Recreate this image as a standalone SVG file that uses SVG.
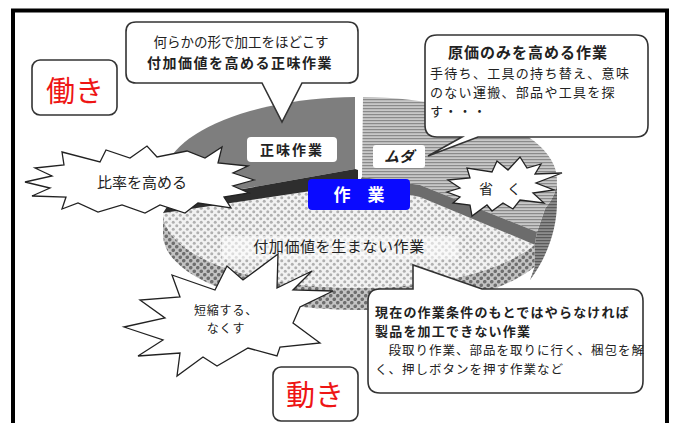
<svg xmlns="http://www.w3.org/2000/svg" width="674" height="423" viewBox="0 0 674 423">
<defs>
<pattern id="chkLight" width="7" height="7" patternUnits="userSpaceOnUse">
<rect width="7" height="7" fill="#f2f2f2"/>
<circle cx="1.75" cy="1.75" r="1.5" fill="#b0b0b0"/>
<circle cx="5.25" cy="5.25" r="1.5" fill="#b0b0b0"/>
</pattern>
<pattern id="chkDark" width="7" height="7" patternUnits="userSpaceOnUse">
<rect width="7" height="7" fill="#c4c4c4"/>
<circle cx="1.75" cy="1.75" r="1.8" fill="#6e6e6e"/>
<circle cx="5.25" cy="5.25" r="1.8" fill="#6e6e6e"/>
</pattern>
<pattern id="lines" width="4" height="3" patternUnits="userSpaceOnUse">
<rect width="4" height="3" fill="#c8c8c8"/>
<rect width="4" height="1.2" fill="#8a8a8a"/>
</pattern>
<pattern id="linesDark" width="4" height="3" patternUnits="userSpaceOnUse">
<rect width="4" height="3" fill="#8c8c8c"/>
<rect width="4" height="1.2" fill="#5a5a5a"/>
</pattern>
</defs>
<style>
text{font-family:"Noto Sans CJK JP","Noto Sans CJK SC",sans-serif;fill:#222}
.box{fill:#fff;stroke:#333;stroke-width:1.6}
.burst{fill:#fff;stroke:#222;stroke-width:1.3;stroke-linejoin:miter}
.big{font-size:29px;fill:#ee1515;text-anchor:middle}
.b{font-weight:bold}
.c{text-anchor:middle}
.lbl{fill:#fff}
</style>
<rect width="674" height="423" fill="#fff"/>
<g id="frame"><rect x="13" y="10.5" width="654" height="440" fill="none" stroke="#000" stroke-width="4"/></g>

<g id="pie">
<path d="M163,213 A195,75 0 0 0 534.7,244.7 L534.7,266.7 A195,75 0 0 1 163,235 Z" fill="url(#chkDark)"/>
<path d="M163,213 A195,75 0 0 0 534.7,244.7 L420,197 L358,184 Z" fill="url(#chkLight)"/>
<path d="M355,97 A197,83 0 0 0 170,201.9 L355,169 Z" fill="#7e7e7e"/>
<path d="M170,202 L355,169 L358,170 L358,184 L163,213 Z" fill="#2e2e2e"/>
<path d="M557,180 A197,83 0 0 1 545.1,208.4 L537,232 L534.7,244.7 L534.7,266.7 L530,280 C548,256 557,228 557,202 Z" fill="url(#linesDark)"/>
<path d="M363,97 A197,83 0 0 1 545.1,208.4 L537,232 L420,185 L362,177 Z" fill="url(#lines)"/>
<path d="M362,177 L420,185 L537,232 L534.7,244.7 L420,197 L358,184 Z" fill="#6c6c6c"/>
</g>

<g id="label-shoumi"><rect x="247" y="137" width="90" height="25" rx="4" fill="#fff"/><text x="292" y="155" class="c b" font-size="14" letter-spacing="2">正味作業</text></g>
<g id="label-muda"><rect x="373" y="145" width="52" height="23" rx="3" fill="#fff"/><text x="399" y="162" class="c b" font-size="15" font-style="italic">ムダ</text></g>
<g id="label-sagyou"><rect x="308" y="179" width="102" height="31" rx="4" fill="#0a0aff"/><text x="359" y="201" class="c b lbl" font-size="17">作　業</text></g>
<g id="label-fukakachi"><rect x="222" y="236" width="236" height="23" fill="#fff" opacity="0.55"/><text x="339" y="252" class="c" font-size="15" letter-spacing="0.6">付加価値を生まない作業</text></g>

<g id="hataraki"><rect x="32" y="60" width="85" height="55" rx="8" class="box"/><text x="75" y="102" class="big">働き</text></g>
<g id="ugoki"><rect x="273" y="367" width="85" height="54" rx="8" class="box"/><text x="315" y="406" class="big">動き</text></g>

<g id="callout-value">
<path class="box" d="M136,22 H348 Q358,22 358,32 V73 Q358,83 348,83 H302 L282,122 L262,83 H136 Q126,83 126,73 V32 Q126,22 136,22 Z"/>
<text x="241" y="47" class="c" font-size="13.5">何らかの形で加工をほどこす</text>
<text x="240" y="68" class="c b" font-size="14" letter-spacing="1.5">付加価値を高める正味作業</text>
</g>

<g id="callout-cost">
<path class="box" d="M437,35 H636 Q648,35 648,47 V125 Q648,137 636,137 H478 L428,156 L462,137 H437 Q425,137 425,125 V47 Q425,35 437,35 Z"/>
<text x="528" y="58" class="c b" font-size="15" letter-spacing="1">原価のみを高める作業</text>
<text x="430" y="78" font-size="13" letter-spacing="1.3">手待ち、工具の持ち替え、意味</text>
<text x="430" y="97" font-size="13" letter-spacing="1.3">のない運搬、部品や工具を探</text>
<text x="430" y="116" font-size="13" letter-spacing="1.3">す・・・</text>
</g>

<g id="callout-required">
<path class="box" d="M380,289 H413 V265 L482,289 H631 Q643,289 643,301 V381 Q643,393 631,393 H380 Q368,393 368,381 V301 Q368,289 380,289 Z"/>
<text x="375" y="317" class="b" font-size="13" letter-spacing="1.2">現在の作業条件のもとではやらなければ</text>
<text x="375" y="336" class="b" font-size="13" letter-spacing="1.2">製品を加工できない作業</text>
<text x="375" y="355" font-size="12.5" letter-spacing="1">　段取り作業、部品を取りに行く、梱包を解</text>
<text x="375" y="374" font-size="12.5" letter-spacing="1">く、押しボタンを押す作業など</text>
</g>

<g id="burst-ratio">
<polygon class="burst" points="62,152 100,162 106,150 130,158 147,146 157,157 187,151 205,158 222,147 218,163 248,166 233,173 254,180 233,186 249,193 224,197 231,208 198,203 185,213 160,205 145,213 122,205 98,212 78,203 62,209 66,197 32,196 50,188 25,182 52,176 35,168 64,165"/>
<text x="142" y="188" class="c" font-size="15">比率を高める</text>
</g>

<g id="burst-omit">
<polygon class="burst" points="448,180 470,178 467,168 492,172 497,161 508,170 520,157 527,168 541,164 535,174 562,173 536,183 554,190 533,193 544,203 520,200 513,209 503,203 492,211 487,205 472,216 470,205 453,203 460,197 447,192 460,188"/>
<text x="500" y="194" class="c" font-size="14">省　く</text>
</g>

<g id="burst-shorten">
<polygon class="burst" points="172,275 215,290 227,266 243,280 278,254 277,288 312,271 293,290 333,291 300,307 293,323 320,343 280,347 277,356 248,348 217,366 203,357 177,376 180,353 138,356 163,340 124,327 165,318 140,300 180,297"/>
<text x="226" y="315" class="c" font-size="12" letter-spacing="0.8">短縮する、</text>
<text x="226" y="333" class="c" font-size="12" letter-spacing="0.8">なくす</text>
</g>
</svg>
